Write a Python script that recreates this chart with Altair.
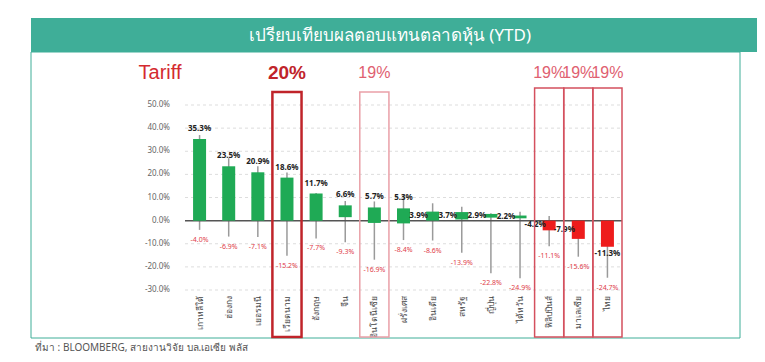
import altair as alt
import pandas as pd

countries = ["เกาหลีใต้", "ฮ่องกง", "เยอรมนี", "เวียดนาม", "อังกฤษ", "จีน", "อินโดนีเซีย",
             "ฝรั่งเศส", "อินเดีย", "สหรัฐ", "ญี่ปุ่น", "ไต้หวัน", "ฟิลิปปินส์", "มาเลเซีย", "ไทย"]
ytd = [35.3, 23.5, 20.9, 18.6, 11.7, 6.6, 5.7, 5.3, 3.9, 3.7, 2.9, 2.2, -4.2, -7.9, -11.3]
open_ = [0, 0, 0, 0, 0, 1.5, -1.0, -1.2, 0, 0.5, 1.3, 1.0, 0, 0, 0]
high = [37.0, 27.0, 23.5, 20.8, 12.0, 8.5, 8.3, 11.5, 7.5, 6.0, 3.2, 3.8, 2.0, 0, 0]
low = [-4.0, -6.9, -7.1, -15.2, -7.7, -9.3, -16.9, -8.4, -8.6, -13.9, -22.8, -24.9, -11.1, -15.6, -24.7]
label_pos = ["top"] * 8 + ["left"] * 6 + ["bottom"]
tariff = ["", "", "", "20%", "", "", "19%", "", "", "", "", "", "19%", "19%", "19%"]
y_ticks = [-30, -20, -10, 0, 10, 20, 30, 40, 50]

TITLE = "เปรียบเทียบผลตอบแทนตลาดหุ้น (YTD)"
SOURCE = "ที่มา : BLOOMBERG, สายงานวิจัย บล.เอเซีย พลัส"

df = pd.DataFrame({
    "country": countries, "ytd": ytd, "open": open_, "high": high, "low": low,
    "pos": label_pos, "tariff": tariff,
})
df["mid"] = (df["open"] + df["ytd"]) / 2
df["lbl"] = [f"{v:.1f}%" for v in ytd]
df["lowlbl"] = [f"{v:.1f}%" for v in low]
df["sign"] = ["up" if v >= 0 else "down" for v in ytd]

ticks_df = pd.DataFrame({"v": y_ticks, "t": [f"{v:.1f}%" for v in y_ticks]})
one = pd.DataFrame({"a": [0]})
W, H = 437, 185
TEAL = "#3fae98"
FONT = "Noto Sans"

X_AXIS = alt.Axis(title=None, labelAngle=-90, ticks=False, domain=False, grid=False,
                  labelPadding=5, labelFontSize=8.5, labelColor="#444", labelFont=FONT)
XS = alt.Scale(paddingInner=0, paddingOuter=0)
YS = alt.Scale(domain=[-30, 50], nice=False, zero=False)


def X():
    return alt.X("country:N", sort=countries, scale=XS, axis=X_AXIS)


def Y(field):
    return alt.Y(field, type="quantitative", scale=YS, axis=None)


base = alt.Chart(df)

banner = alt.Chart(one).mark_rect(color=TEAL).encode(
    x=alt.value(-154), x2=alt.value(572), y=alt.value(-87), y2=alt.value(-53))
border = alt.Chart(one).mark_rect(fill="transparent", stroke=TEAL, strokeWidth=1).encode(
    x=alt.value(-154), x2=alt.value(555), y=alt.value(-53), y2=alt.value(233))
title = alt.Chart(one).mark_text(text=TITLE, color="white", fontSize=17, font=FONT).encode(
    x=alt.value(205), y=alt.value(-69))
source = alt.Chart(one).mark_text(text=SOURCE, color="#555", fontSize=10, font=FONT, align="left").encode(
    x=alt.value(-150), y=alt.value(243))
tariff_hdr = alt.Chart(one).mark_text(text="Tariff", color="#d42a30", fontSize=20, font="Liberation Sans").encode(
    x=alt.value(-25), y=alt.value(-32))

grid = alt.Chart(ticks_df).mark_rule(color="#dddddd", strokeDash=[3, 3], strokeWidth=1).encode(
    y=Y("v"), x=alt.value(0), x2=alt.value(W))
ylabels = alt.Chart(ticks_df).mark_text(align="right", fontSize=8, color="#666", font=FONT).encode(
    y=Y("v"), x=alt.value(-15), text="t")

whisk = base.mark_rule(color="#9a9a9a", strokeWidth=1.5).encode(x=X(), y=Y("low"), y2="high")
zero = alt.Chart(one).mark_rule(color="#555", strokeWidth=1.5).encode(
    y=alt.Y(datum=0, type="quantitative", scale=YS, axis=None), x=alt.value(0), x2=alt.value(W))
bars = base.mark_bar(size=13).encode(
    x=X(), y=Y("open"), y2="ytd",
    color=alt.Color("sign:N", scale=alt.Scale(domain=["up", "down"], range=["#1faa55", "#ee1c1c"]), legend=None))

lbl_top = base.transform_filter("datum.pos == 'top'").mark_text(
    fontSize=8, fontWeight="bold", color="#222", dy=-10, font=FONT).encode(x=X(), y=Y("ytd"), text="lbl")
lbl_left = base.transform_filter("datum.pos == 'left'").mark_text(
    fontSize=8, fontWeight="bold", color="#222", dx=-14, font=FONT).encode(x=X(), y=Y("mid"), text="lbl")
lbl_bot = base.transform_filter("datum.pos == 'bottom'").mark_text(
    fontSize=8, fontWeight="bold", color="#222", dy=7, font=FONT).encode(x=X(), y=Y("ytd"), text="lbl")
lbl_low = base.mark_text(fontSize=7, color="#e0404a", dy=10, font=FONT).encode(x=X(), y=Y("low"), text="lowlbl")

box_vn = base.transform_filter("datum.country == 'เวียดนาม'").mark_rect(
    fill="transparent", stroke="#c0242a", strokeWidth=2.5).encode(x=X(), y=alt.value(-13), y2=alt.value(232))
box_id = base.transform_filter("datum.country == 'อินโดนีเซีย'").mark_rect(
    fill="transparent", stroke="#eaa0a8", strokeWidth=1.5).encode(x=X(), y=alt.value(-13), y2=alt.value(232))
box_oth = base.transform_filter("datum.tariff != '' && datum.country != 'เวียดนาม' && datum.country != 'อินโดนีเซีย'").mark_rect(
    fill="transparent", stroke="#d4505e", strokeWidth=1.5).encode(x=X(), y=alt.value(-17), y2=alt.value(232))

tar_vn = base.transform_filter("datum.country == 'เวียดนาม'").mark_text(
    fontSize=19, fontWeight="bold", color="#c0242a", font="Liberation Sans").encode(x=X(), y=alt.value(-32), text="tariff")
tar_oth = base.transform_filter("datum.tariff != '' && datum.country != 'เวียดนาม'").mark_text(
    fontSize=16, color="#e06070", font="Liberation Sans").encode(x=X(), y=alt.value(-32), text="tariff")

chart = alt.layer(
    banner, border, title, source, tariff_hdr, grid, ylabels,
    whisk, zero, bars, lbl_top, lbl_left, lbl_bot, lbl_low,
    box_vn, box_id, box_oth, tar_vn, tar_oth,
).properties(
    width=W, height=H, background="white",
    padding={"left": 177, "top": 97, "right": 749 - 177 - W, "bottom": 346 - 97 - H},
    autosize=alt.AutoSizeParams(type="none"),
).configure_view(stroke=None)

chart.save("out.html", embed_options={"renderer": "svg", "actions": False})
